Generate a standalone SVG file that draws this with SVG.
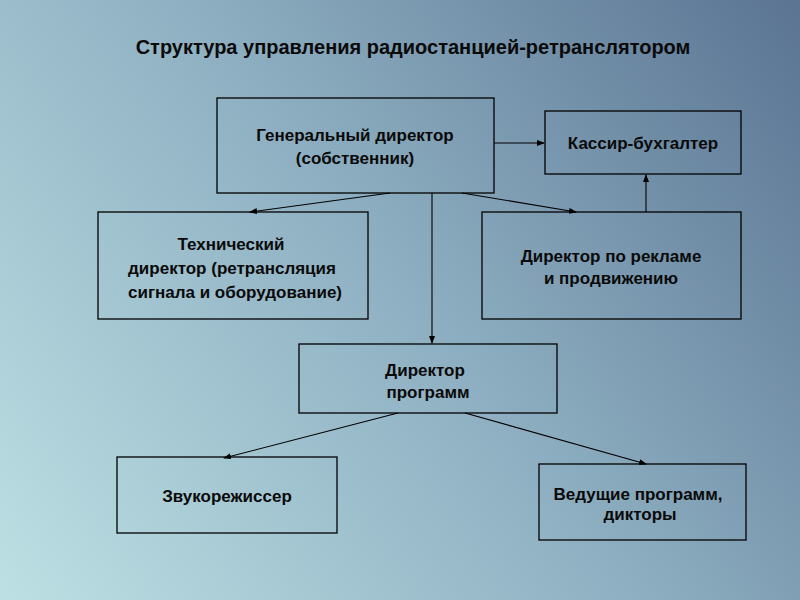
<svg xmlns="http://www.w3.org/2000/svg" width="800" height="600" viewBox="0 0 800 600">
<defs>
<linearGradient id="bg" x1="0" y1="600" x2="800" y2="0" gradientUnits="userSpaceOnUse">
<stop offset="0" stop-color="#bde0e4"/>
<stop offset="0.5" stop-color="#8fb0c2"/>
<stop offset="1" stop-color="#5a7492"/>
</linearGradient>
<marker id="ah" markerWidth="8" markerHeight="6" refX="7" refY="3" orient="auto" markerUnits="userSpaceOnUse">
<path d="M0,0 L8,3 L0,6 Z" fill="#000"/>
</marker>
<style>
.box{fill:none;stroke:#000;stroke-width:1.3}
.t{font-family:"Liberation Sans",Arial,sans-serif;font-weight:bold;font-size:17px;fill:#0a0a0a;text-anchor:middle}
.title{font-family:"Liberation Sans",Arial,sans-serif;font-weight:bold;font-size:20px;fill:#0a0a0a;text-anchor:middle}
.c{stroke:#000;stroke-width:1.1;fill:none;marker-end:url(#ah)}
</style>
</defs>
<rect width="800" height="600" fill="url(#bg)"/>
<text class="title" x="413" y="54">Структура управления радиостанцией-ретранслятором</text>
<g id="connectors">
<line class="c" x1="494" y1="143" x2="544" y2="143"/>
<line class="c" x1="390" y1="193" x2="250" y2="212"/>
<line class="c" x1="462" y1="193" x2="576" y2="212"/>
<line class="c" x1="432" y1="193" x2="432" y2="343"/>
<line class="c" x1="646" y1="212" x2="646" y2="175"/>
<line class="c" x1="398" y1="413" x2="224" y2="458"/>
<line class="c" x1="465" y1="413" x2="646" y2="464"/>
</g>
<g id="gen">
<rect class="box" x="217" y="98" width="277" height="95"/>
<text class="t" x="355" y="141">Генеральный директор</text>
<text class="t" x="355" y="164">(собственник)</text>
</g>
<g id="kassir">
<rect class="box" x="545" y="111" width="196" height="63"/>
<text class="t" x="643" y="149">Кассир-бухгалтер</text>
</g>
<g id="tech">
<rect class="box" x="98" y="212" width="270" height="107"/>
<text class="t" x="231" y="250">Технический</text>
<text class="t" x="232" y="274">директор (ретрансляция</text>
<text class="t" x="235" y="298">сигнала и оборудование)</text>
</g>
<g id="reklama">
<rect class="box" x="482" y="212" width="259" height="107"/>
<text class="t" x="611" y="262">Директор по рекламе</text>
<text class="t" x="611" y="284">и продвижению</text>
</g>
<g id="programs">
<rect class="box" x="299" y="344" width="258" height="69"/>
<text class="t" x="425" y="376">Директор</text>
<text class="t" x="428" y="398">программ</text>
</g>
<g id="zvuk">
<rect class="box" x="117" y="457" width="220" height="76"/>
<text class="t" x="227" y="502">Звукорежиссер</text>
</g>
<g id="vedushchie">
<rect class="box" x="539" y="464" width="207" height="76"/>
<text class="t" x="638" y="500">Ведущие программ,</text>
<text class="t" x="640" y="520">дикторы</text>
</g>
</svg>
